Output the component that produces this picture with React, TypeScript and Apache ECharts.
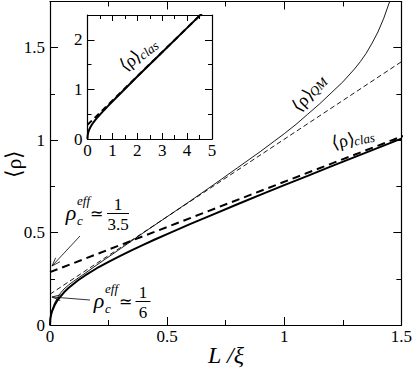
import React, { useEffect, useRef } from 'react';
import * as echarts from 'echarts';

// ---- data ----
const clasL = [0, 0.001, 0.002, 0.005, 0.01, 0.02, 0.03, 0.04, 0.06, 0.08, 0.1, 0.12, 0.15, 0.2, 0.25, 0.3, 0.35, 0.4, 0.45, 0.5, 0.6, 0.7, 0.8, 0.9, 1.0, 1.1, 1.2, 1.3, 1.4, 1.5];
const clasRho = [0, 0.026, 0.037, 0.057, 0.078, 0.108, 0.13, 0.147, 0.177, 0.201, 0.222, 0.242, 0.268, 0.307, 0.342, 0.374, 0.405, 0.435, 0.464, 0.492, 0.547, 0.6, 0.653, 0.705, 0.757, 0.807, 0.858, 0.908, 0.958, 1.008];
const clasLongL = [2, 3, 4, 5];
const clasLongRho = [1.26, 1.75, 2.24, 2.73];
const qmL = [0, 0.002, 0.005, 0.01, 0.02, 0.04, 0.06, 0.08, 0.1, 0.15, 0.2, 0.3, 0.4, 0.5, 0.6, 0.7, 0.8, 0.9, 1.0, 1.05, 1.1, 1.15, 1.2, 1.25, 1.3, 1.325, 1.35, 1.375, 1.4, 1.425, 1.45, 1.48];
const qmRho = [0, 0.04, 0.06, 0.085, 0.12, 0.165, 0.195, 0.217, 0.236, 0.28, 0.325, 0.412, 0.5, 0.586, 0.672, 0.76, 0.85, 0.94, 1.035, 1.085, 1.14, 1.195, 1.255, 1.315, 1.385, 1.425, 1.47, 1.525, 1.585, 1.66, 1.75, 1.86];
const asymClasL = [0, 5];
const asymClasRho = [1 / 3.5, 2.73];
const asymQmL = [0, 1.5];
const asymQmRho = [1 / 6, 1.424];

const mainXTicks = { min: 0, max: 1.5, major: 0.5, minor: 0.25 };
const mainYTicks = { min: 0, max: 1.75, major: 0.5, minor: 0.25 };
const insetXTicks = { min: 0, max: 5, major: 1, minor: 0.5 };
const insetYTicks = { min: 0, max: 2.5, major: 1, minor: 0.5 };

const FAMILY = 'Liberation Serif';
const pairs = (xs: number[], ys: number[]) => xs.map((x, i) => [x, ys[i]]);

function makeAxes(dim: 'x' | 'y', grid: number, t: any, majorLen: number, minorLen: number) {
  const sides = dim === 'x' ? ['bottom', 'top'] : ['left', 'right'];
  const out: any[] = [];
  sides.forEach((pos, si) => {
    [true, false].forEach((isMajor) => {
      out.push({
        type: 'value',
        gridIndex: grid,
        position: pos,
        min: t.min,
        max: t.max,
        interval: isMajor ? t.major : t.minor,
        axisLine: { show: isMajor, onZero: false, lineStyle: { color: '#000', width: 1.2 } },
        axisTick: { show: true, inside: true, length: isMajor ? majorLen : minorLen, lineStyle: { color: '#000', width: 1 } },
        splitLine: { show: false },
        axisLabel: {
          show: isMajor && si === 0,
          inside: false,
          margin: dim === 'x' ? 3 : 5,
          showMaxLabel: dim === 'x',
          color: '#000',
          fontFamily: FAMILY,
          fontSize: 17,
          formatter: (v: number) => String(v),
        },
      });
    });
  });
  return out;
}

function arrow(tip: number[], tail: number[]) {
  const dx = tail[0] - tip[0];
  const dy = tail[1] - tip[1];
  const n = Math.hypot(dx, dy);
  const ux = dx / n, uy = dy / n;
  const len = 9, a = 0.33, c = Math.cos(a), s = Math.sin(a);
  const p1 = [tip[0] + len * (ux * c - uy * s), tip[1] + len * (ux * s + uy * c)];
  const p2 = [tip[0] + len * (ux * c + uy * s), tip[1] + len * (-ux * s + uy * c)];
  return [
    { type: 'line', shape: { x1: tail[0], y1: tail[1], x2: tip[0], y2: tip[1] }, style: { stroke: '#000', lineWidth: 0.8 } },
    { type: 'polyline', shape: { points: [p1, tip, p2] }, style: { stroke: '#000', fill: null, lineWidth: 0.8 } },
  ];
}

function txt(text: string, x: number, y: number, size: number, italic: boolean, align = 'center', rotation = 0) {
  return {
    type: 'text',
    x,
    y,
    rotation,
    style: {
      text,
      fontFamily: FAMILY,
      fontSize: size,
      fontStyle: italic ? 'italic' : 'normal',
      fill: '#000',
      align,
      verticalAlign: 'middle',
    },
  };
}

function rhoEff(x: number, y: number, denom: string, fracX: number, eqX: number) {
  const half = denom.length > 1 ? 11 : 7.5;
  return [
    txt('ρ', x, y, 22, true),
    txt('c', x + 6, y + 8, 13, true, 'left'),
    txt('eff', x + 6, y - 12, 13, true, 'left'),
    txt('≃', eqX, y + 1, 16, false),
    txt('1', fracX, y - 8, 17, false),
    { type: 'line', shape: { x1: fracX - half, y1: y + 1.5, x2: fracX + half, y2: y + 1.5 }, style: { stroke: '#000', lineWidth: 1 } },
    txt(denom, fracX, y + 12, 17, false),
  ];
}

function rhoLabel(x: number, y: number, rot: number, sub: string, dx: number, dy: number, size: number) {
  const c = Math.cos(rot), s = Math.sin(rot);
  const out: any[] = [txt('⟨ρ⟩', x, y, size, false, sub ? 'left' : 'center', rot)];
  if (sub) out.push(txt(sub, x + dx * c + dy * s, y - dx * s + dy * c, 13, true, 'left', rot));
  return out;
}

export default function App() {
  const ref = useRef<HTMLDivElement>(null);
  useEffect(() => {
    if (!ref.current) return;
    const chart = echarts.init(ref.current, undefined, { renderer: 'svg' });
    const xAxes = [
      ...makeAxes('x', 0, mainXTicks, 8, 5),
      ...makeAxes('x', 1, insetXTicks, 6, 4),
    ];
    const yAxes = [
      ...makeAxes('y', 0, mainYTicks, 8, 5),
      ...makeAxes('y', 1, insetYTicks, 7, 4),
    ];
    const thick = { color: '#000', width: 2 };
    chart.setOption({
      animation: false,
      backgroundColor: '#fff',
      grid: [
        { left: 50, right: 13, top: 1.5, bottom: 48, containLabel: false },
        { left: 87.5, top: 15, width: 124.5, height: 124, show: true, backgroundColor: '#fff', borderWidth: 0, containLabel: false },
      ],
      xAxis: xAxes,
      yAxis: yAxes,
      series: [
        { type: 'line', xAxisIndex: 0, yAxisIndex: 0, data: pairs(asymQmL, asymQmRho), symbol: 'none', lineStyle: { color: '#000', width: 0.9, type: [5, 3] } },
        { type: 'line', xAxisIndex: 0, yAxisIndex: 0, data: pairs(qmL, qmRho), symbol: 'none', lineStyle: { color: '#000', width: 0.9 } },
        { type: 'line', xAxisIndex: 0, yAxisIndex: 0, data: pairs(asymClasL, asymClasRho), symbol: 'none', lineStyle: { ...thick, type: [8, 5] } },
        { type: 'line', xAxisIndex: 0, yAxisIndex: 0, data: pairs(clasL, clasRho), symbol: 'none', lineStyle: thick },
        { type: 'line', xAxisIndex: 4, yAxisIndex: 4, data: pairs(asymClasL, asymClasRho), symbol: 'none', lineStyle: { ...thick, type: [6, 4] } },
        { type: 'line', xAxisIndex: 4, yAxisIndex: 4, data: pairs([...clasL, ...clasLongL], [...clasRho, ...clasLongRho]), symbol: 'none', lineStyle: thick },
      ],
      graphic: [
        ...rhoLabel(13, 164, Math.PI / 2, '', 0, 0, 22),
        txt('L /ξ', 226, 355, 24, true),
        ...rhoEff(71, 212, '3.5', 118, 96),
        ...arrow([52, 266], [80, 236]),
        ...rhoEff(99, 300, '6', 143, 125),
        ...arrow([52, 297], [90, 300]),
        ...rhoLabel(294.5, 108.5, 0.8, 'QM', 22, 2, 18),
        ...rhoLabel(332, 143, 0.21, 'clas', 22, 3, 18),
        ...rhoLabel(121, 67.5, 0.65, 'clas', 22, 3, 18),
      ],
    });
    return () => chart.dispose();
  }, []);
  return <div ref={ref} style={{ position: 'absolute', left: 0, top: 0, width: 415, height: 373, background: '#fff' }} />;
}
